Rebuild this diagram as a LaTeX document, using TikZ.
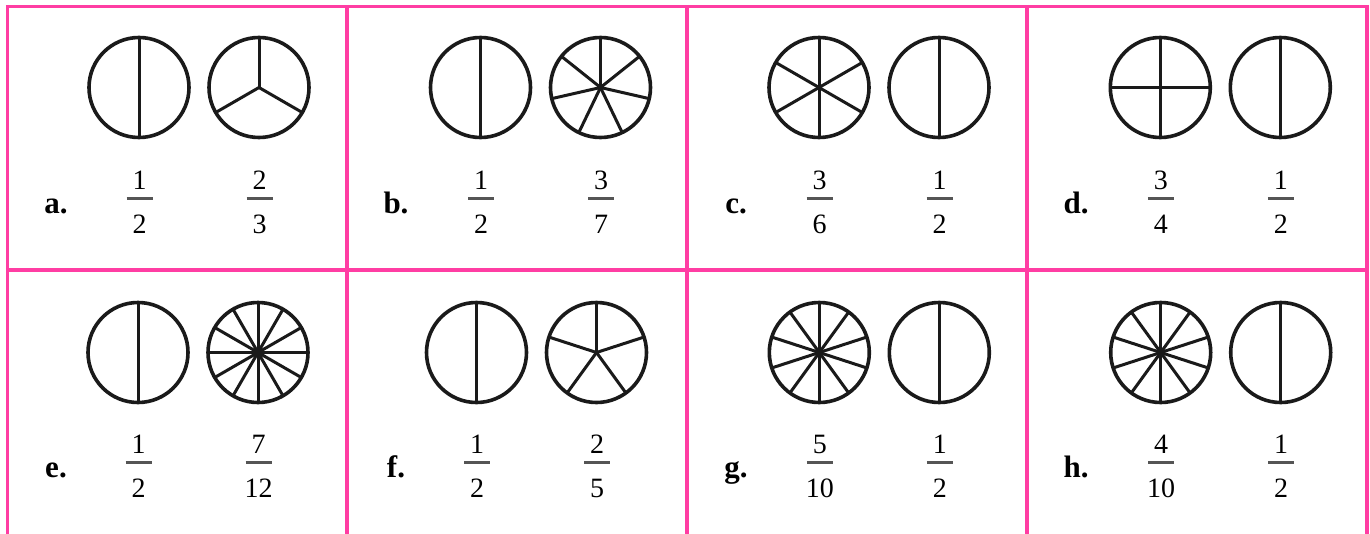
\documentclass[tikz,border=0pt]{standalone}
\usepackage{fontspec}
\setmainfont{Liberation Serif}
\usetikzlibrary{positioning}
\definecolor{gridpink}{RGB}{255,61,163}
\definecolor{barcol}{RGB}{85,85,85}
\definecolor{ink}{RGB}{26,26,26}
\tikzset{
  grid line/.style={gridpink, line width=3.5pt},
  rim/.style={ink, line width=3.6pt},
  spoke/.style={ink, line width=3pt},
  frac bar/.style={barcol, line width=3.2pt},
  digit/.style={anchor=base, inner sep=0pt, font=\fontsize{28}{28}\selectfont},
  part label/.style={anchor=base, inner sep=0pt, font=\fontsize{31}{31}\selectfont\bfseries},
}
% circle cut into equal parts: centre x, centre y, parts
\newcommand{\piecircle}[3]{%
  \draw[rim] (#1,#2) circle[radius=50];
  \foreach \k in {1,...,#3}
    \draw[spoke] (#1,#2) -- ++({-90+360*\k/#3}:50);
  \ifnum#3>6 \fill[ink] (#1,#2) circle[radius=3.6];\fi
}

\begin{document}
\begin{tikzpicture}[x=1pt, y=-1pt]
  \useasboundingbox (0,0) rectangle (1370,533);

  % pink grid
  \foreach \gx in {7.5,347,687,1027,1367}
    \draw[grid line] (\gx,4.75) -- (\gx,540);
  \foreach \gy in {6.5,270}
    \draw[grid line] (5.75,\gy) -- (1368.75,\gy);

  % cells: label/col/row/shift, then parts/num/den of left and right circle
  \foreach \lbl/\col/\row/\dx/\na/\pa/\qa/\nb/\pb/\qb in {
      a/0/0/132/2/1/2/3/2/3,
      b/1/0/133.5/2/1/2/7/3/7,
      c/2/0/132/6/3/6/2/1/2,
      d/3/0/133.3/4/3/4/2/1/2,
      e/0/1/131/2/1/2/12/7/12,
      f/1/1/129.5/2/1/2/5/2/5,
      g/2/1/132.3/10/5/10/2/1/2,
      h/3/1/133.7/10/4/10/2/1/2}{
    \pgfmathsetmacro{\lx}{7+340*\col}
    \pgfmathsetmacro{\ax}{\lx+\dx}
    \pgfmathsetmacro{\bx}{\ax+120}
    \pgfmathsetmacro{\cy}{87.5+265*\row}
    \pgfmathsetmacro{\by}{198.5+264*\row}

    \piecircle{\ax}{\cy}{\na}
    \piecircle{\bx}{\cy}{\nb}

    % label and the two fractions
    \node[part label] (lbl-\lbl) at (\lx+49,\by+14.5) {\lbl.};
    \node[digit] (num-\lbl-a) at (\ax+0.5,\by-9) {\pa};
    \node[digit] (den-\lbl-a) at (\ax+0.5,\by+35) {\qa};
    \draw[frac bar] (\ax-12.5,\by) -- (\ax+13.5,\by);
    \node[digit] (num-\lbl-b) at (\bx+0.5,\by-9) {\pb};
    \node[digit] (den-\lbl-b) at (\bx+0.5,\by+35) {\qb};
    \draw[frac bar] (\bx-12.5,\by) -- (\bx+13.5,\by);
  }
\end{tikzpicture}
\end{document}
